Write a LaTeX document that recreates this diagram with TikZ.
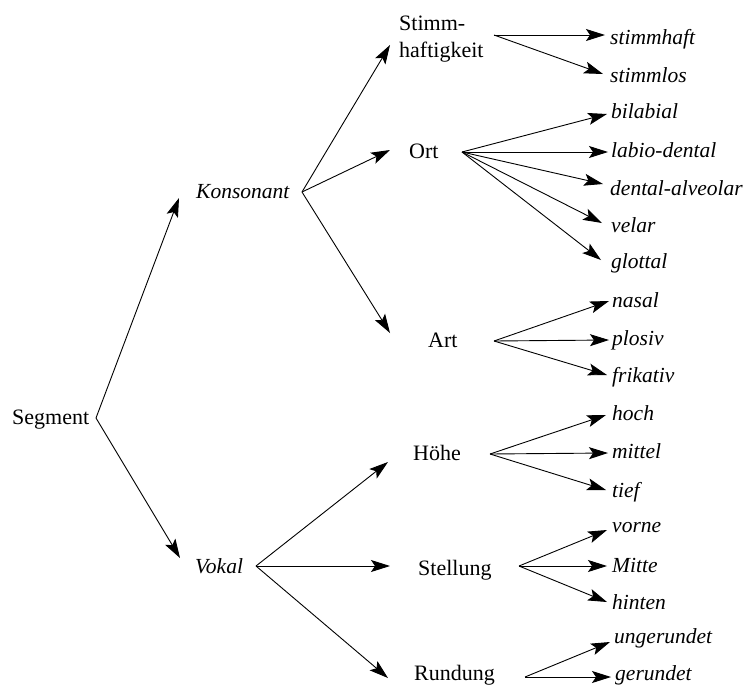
\documentclass[tikz,border=0pt]{standalone}
\usepackage{fontspec}
\setmainfont{Liberation Serif}
\usetikzlibrary{arrows.meta}
\begin{document}
\begin{tikzpicture}[x=1pt,y=-1pt,
  cat/.style={anchor=base west,inner sep=0pt,font=\fontsize{22}{27}\selectfont},
  val/.style={anchor=base west,inner sep=0pt,font=\fontsize{21.5}{27}\selectfont\itshape},
  arr/.style={-{Stealth[length=19pt,width=12pt,inset=4pt]},line width=0.9pt}]
\useasboundingbox (0,0) rectangle (744,686);

% top level
\node[cat] (seg) at (12,424) {Segment};
\coordinate (seg-out) at (96,418);

% Konsonant branch
\node[val] (kon) at (196,198) {Konsonant};
\coordinate (kon-in) at (179,198);
\coordinate (kon-out) at (302,192);

\node[cat,align=left] (sth) at (399,57) {Stimm-\\haftigkeit};
\coordinate (sth-in) at (390,45);
\coordinate (sth-out) at (494,35);
\node[val] (sth1) at (610,44) {stimmhaft};
\node[val] (sth2) at (610,82) {stimmlos};

\node[cat] (ort) at (409,158) {Ort};
\coordinate (ort-in) at (390,150);
\coordinate (ort-out) at (462,152);
\node[val] (ort1) at (611,118) {bilabial};
\node[val] (ort2) at (611,157) {labio-dental};
\node[val] (ort3) at (610,195) {dental-alveolar};
\node[val] (ort4) at (611,232) {velar};
\node[val] (ort5) at (611,268) {glottal};

\node[cat] (art) at (428,347) {Art};
\coordinate (art-in) at (390,333);
\coordinate (art-out) at (494,341);
\node[val] (art1) at (612,307) {nasal};
\node[val] (art2) at (612,345) {plosiv};
\node[val] (art3) at (612,382) {frikativ};

% Vokal branch
\node[val] (vok) at (195,573) {Vokal};
\coordinate (vok-in) at (180,558);
\coordinate (vok-out) at (256,566);

\node[cat] (hoe) at (413,460) {Höhe};
\coordinate (hoe-in) at (388,462);
\coordinate (hoe-out) at (490,454);
\node[val] (hoe1) at (612,420) {hoch};
\node[val] (hoe2) at (612,458) {mittel};
\node[val] (hoe3) at (612,497) {tief};

\node[cat] (stl) at (418,575) {Stellung};
\coordinate (stl-in) at (390,566);
\coordinate (stl-out) at (519,566);
\node[val] (stl1) at (612,532) {vorne};
\node[val] (stl2) at (612,572) {Mitte};
\node[val] (stl3) at (612,609) {hinten};

\node[cat] (rnd) at (414,680) {Rundung};
\coordinate (rnd-in) at (388,678);
\coordinate (rnd-out) at (525,677);
\node[val] (rnd1) at (614,643) {ungerundet};
\node[val] (rnd2) at (615,680) {gerundet};

% connectors
\draw[arr] (seg-out) -- (kon-in);
\draw[arr] (seg-out) -- (vok-in);
\draw[arr] (kon-out) -- (sth-in);
\draw[arr] (kon-out) -- (ort-in);
\draw[arr] (kon-out) -- (art-in);
\draw[arr] (vok-out) -- (hoe-in);
\draw[arr] (vok-out) -- (stl-in);
\draw[arr] (vok-out) -- (rnd-in);

\draw[arr] (sth-out) -- (605,35) coordinate (sth1-in);
\draw[arr] (sth-out) -- (603,74) coordinate (sth2-in);

\draw[arr] (ort-out) -- (607,114) coordinate (ort1-in);
\draw[arr] (ort-out) -- (608,152) coordinate (ort2-in);
\draw[arr] (ort-out) -- (603,184) coordinate (ort3-in);
\draw[arr] (ort-out) -- (602,223) coordinate (ort4-in);
\draw[arr] (ort-out) -- (601,260) coordinate (ort5-in);

\draw[arr] (art-out) -- (609,301) coordinate (art1-in);
\draw[arr] (art-out) -- (609,340) coordinate (art2-in);
\draw[arr] (art-out) -- (607,375) coordinate (art3-in);

\draw[arr] (hoe-out) -- (606,415) coordinate (hoe1-in);
\draw[arr] (hoe-out) -- (608,453) coordinate (hoe2-in);
\draw[arr] (hoe-out) -- (606,490) coordinate (hoe3-in);

\draw[arr] (stl-out) -- (607,530) coordinate (stl1-in);
\draw[arr] (stl-out) -- (607,566) coordinate (stl2-in);
\draw[arr] (stl-out) -- (607,602) coordinate (stl3-in);

\draw[arr] (rnd-out) -- (610,642) coordinate (rnd1-in);
\draw[arr] (rnd-out) -- (611,677) coordinate (rnd2-in);
\end{tikzpicture}
\end{document}
